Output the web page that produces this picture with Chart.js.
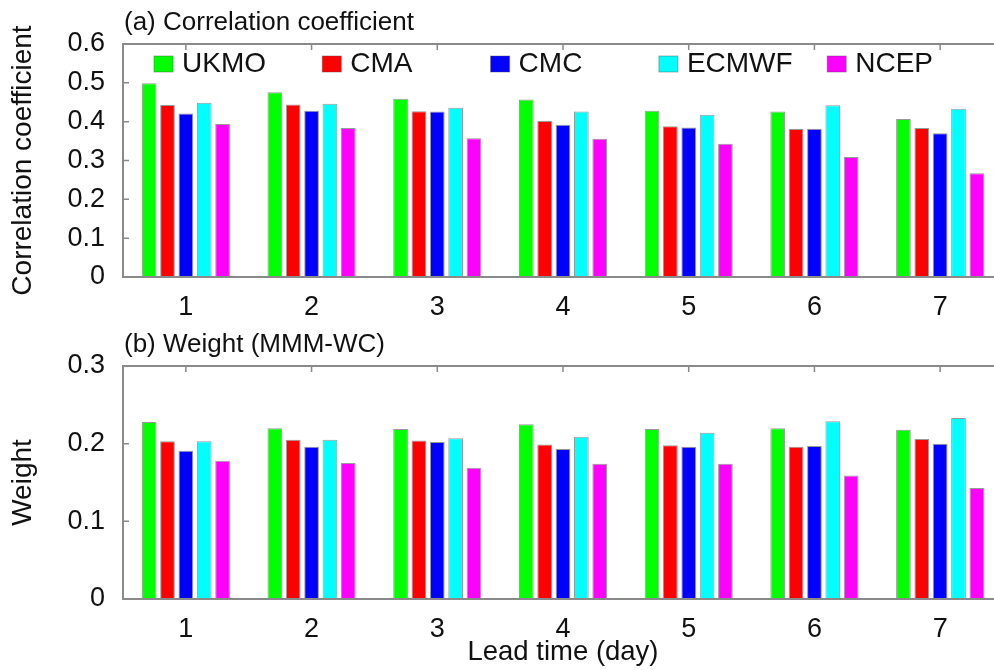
<!DOCTYPE html>
<html>
<head>
  <title>Correlation coefficient and weight by lead time</title>
  <script src="https://cdn.jsdelivr.net/npm/chart.js"></script>
  <style>
    html, body { margin: 0; padding: 0; background: #fff; overflow: hidden; width: 994px; height: 670px; }
    .panel { position: absolute; left: 0; }
  </style>
</head>
<body>
  <canvas id="corrChart" class="panel" style="top:0" width="1010" height="330"></canvas>
  <canvas id="weightChart" class="panel" style="top:330px" width="1010" height="340"></canvas>

  <script>
    // lead time categories and models
    const leadTimes = ['1', '2', '3', '4', '5', '6', '7'];
    const models = ['UKMO', 'CMA', 'CMC', 'ECMWF', 'NCEP'];
    const modelColors = ['#00ff00', '#ff0000', '#0000ff', '#00ffff', '#ff00ff'];

    // (a) correlation coefficient, per model
    const corrUKMO  = [0.499, 0.476, 0.459, 0.457, 0.428, 0.426, 0.407];
    const corrCMA   = [0.443, 0.444, 0.427, 0.402, 0.388, 0.381, 0.384];
    const corrCMC   = [0.421, 0.428, 0.426, 0.392, 0.385, 0.382, 0.370];
    const corrECMWF = [0.449, 0.446, 0.436, 0.426, 0.418, 0.442, 0.433];
    const corrNCEP  = [0.394, 0.384, 0.357, 0.356, 0.343, 0.309, 0.267];
    const corrTicks = ['0', '0.1', '0.2', '0.3', '0.4', '0.5', '0.6'];

    // (b) weight (MMM-WC), per model
    const wUKMO  = [0.228, 0.220, 0.219, 0.225, 0.219, 0.220, 0.218];
    const wCMA   = [0.203, 0.205, 0.204, 0.199, 0.198, 0.196, 0.206];
    const wCMC   = [0.191, 0.196, 0.202, 0.193, 0.196, 0.197, 0.200];
    const wECMWF = [0.203, 0.205, 0.207, 0.209, 0.214, 0.229, 0.233];
    const wNCEP  = [0.178, 0.175, 0.169, 0.174, 0.174, 0.159, 0.143];
    const weightTicks = ['0', '0.1', '0.2', '0.3'];

    const FONT = '"Liberation Sans", Arial, Helvetica, sans-serif';
    const FRAME = '#8a8a8a';

    function makeDatasets(series) {
      return series.map((vals, i) => ({
        label: models[i],
        data: vals,
        backgroundColor: modelColors[i],
        borderColor: 'rgba(70,70,70,0.55)',
        borderWidth: 1,
        categoryPercentage: 0.73,
        barPercentage: 0.8
      }));
    }

    // box around the plot, inward ticks, panel title, optional legend
    const framePlugin = {
      id: 'frame',
      afterDatasetsDraw(chart, args, opts) {
        const ctx = chart.ctx;
        const a = chart.chartArea;
        const xs = chart.scales.x, ys = chart.scales.y;
        ctx.save();
        ctx.strokeStyle = FRAME;
        ctx.lineWidth = 2;
        ctx.strokeRect(a.left, a.top, a.right - a.left, a.bottom - a.top);
        ctx.lineWidth = 1.5;
        ctx.beginPath();
        ys.ticks.forEach(t => {
          const y = ys.getPixelForValue(t.value);
          ctx.moveTo(a.left, y); ctx.lineTo(a.left + 6, y);
        });
        xs.ticks.forEach((t, i) => {
          const x = xs.getPixelForTick(i);
          ctx.moveTo(x, a.top); ctx.lineTo(x, a.top + 6);
        });
        ctx.stroke();

        ctx.fillStyle = '#111';
        ctx.font = '26px ' + FONT;
        ctx.textBaseline = 'middle';
        ctx.textAlign = 'left';
        ctx.fillText(opts.title, a.left + 1, a.top - 21);

        if (opts.legend) {
          ctx.font = '28px ' + FONT;
          chart.data.datasets.forEach((ds, i) => {
            const lx = a.left + 31 + i * 168.3;
            const ly = a.top + 20;
            ctx.fillStyle = ds.backgroundColor;
            ctx.fillRect(lx, ly - 8, 19, 16);
            ctx.strokeStyle = 'rgba(70,70,70,0.4)';
            ctx.lineWidth = 1;
            ctx.strokeRect(lx, ly - 8, 19, 16);
            ctx.fillStyle = '#111';
            ctx.fillText(ds.label, lx + 28, ly);
          });
        }
        ctx.restore();
      }
    };

    function makeChart(id, series, yMax, tickLabels, yTitle, panelTitle, withLegend, topPad, xHeight, xTitle) {
      const ctx = document.getElementById(id).getContext('2d');
      return new Chart(ctx, {
        type: 'bar',
        data: { labels: leadTimes, datasets: makeDatasets(series) },
        plugins: [framePlugin],
        options: {
          responsive: false,
          animation: false,
          layout: { padding: { top: topPad, right: 7, left: 0, bottom: 0 } },
          plugins: {
            legend: { display: false },
            tooltip: { enabled: false },
            frame: { title: panelTitle, legend: withLegend }
          },
          scales: {
            x: {
              grid: { display: false, drawTicks: false },
              border: { display: false },
              ticks: { color: '#111', font: { family: FONT, size: 27 }, padding: 14, maxRotation: 0 },
              title: {
                display: !!xTitle,
                text: xTitle || '',
                color: '#111',
                font: { family: FONT, size: 27.5 },
                padding: { top: 0, bottom: 1 }
              },
              afterFit(scale) { scale.height = xHeight; }
            },
            y: {
              min: 0,
              max: yMax,
              grid: { display: false, drawTicks: false },
              border: { display: false },
              ticks: {
                stepSize: 0.1,
                color: '#111',
                font: { family: FONT, size: 27 },
                padding: 18,
                callback: (v, i) => tickLabels[i]
              },
              title: {
                display: true,
                text: yTitle,
                color: '#111',
                font: { family: FONT, size: 28 },
                padding: { top: 6, bottom: 0 }
              },
              afterFit(scale) { scale.width = 123; }
            }
          }
        }
      });
    }

    makeChart('corrChart', [corrUKMO, corrCMA, corrCMC, corrECMWF, corrNCEP], 0.6, corrTicks,
      'Correlation coefficient', '(a) Correlation coefficient', true, 44, 53, null);
    makeChart('weightChart', [wUKMO, wCMA, wCMC, wECMWF, wNCEP], 0.3, weightTicks,
      'Weight', '(b) Weight (MMM-WC)', false, 36, 71, 'Lead time (day)');
  </script>
</body>
</html>
